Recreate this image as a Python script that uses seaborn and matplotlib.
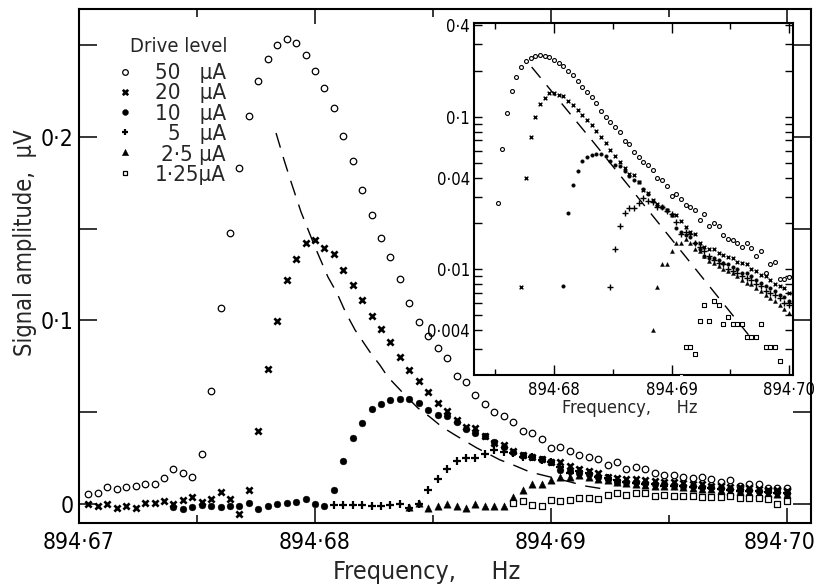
import numpy as np
import pandas as pd
import matplotlib
matplotlib.use("Agg")
import matplotlib.pyplot as plt
from matplotlib.ticker import LogLocator, NullFormatter
from matplotlib.transforms import ScaledTranslation
import seaborn as sns

nan = np.nan

# ── Data ──────────────────────────────────────────────────────────────────────

freq = [894.6704, 894.6708, 894.6712, 894.6716, 894.6720, 894.6724, 894.6728, 894.6732, 894.6736, 894.6740,
        894.6744, 894.6748, 894.6752, 894.6756, 894.6760, 894.6764, 894.6768, 894.6772, 894.6776, 894.6780,
        894.6784, 894.6788, 894.6792, 894.6796, 894.6800, 894.6804, 894.6808, 894.6812, 894.6816, 894.6820,
        894.6824, 894.6828, 894.6832, 894.6836, 894.6840, 894.6844, 894.6848, 894.6852, 894.6856, 894.6860,
        894.6864, 894.6868, 894.6872, 894.6876, 894.6880, 894.6884, 894.6888, 894.6892, 894.6896, 894.6900,
        894.6904, 894.6908, 894.6912, 894.6916, 894.6920, 894.6924, 894.6928, 894.6932, 894.6936, 894.6940,
        894.6944, 894.6948, 894.6952, 894.6956, 894.6960, 894.6964, 894.6968, 894.6972, 894.6976, 894.6980,
        894.6984, 894.6988, 894.6992, 894.6996, 894.7000]

amp_50 = [0.0053, 0.0058, 0.0091, 0.0080, 0.0091, 0.0095, 0.0109, 0.0109, 0.0140, 0.0190,
          0.0168, 0.0149, 0.0272, 0.0617, 0.1066, 0.1479, 0.1829, 0.2116, 0.2308, 0.2426,
          0.2504, 0.2534, 0.2512, 0.2448, 0.2362, 0.2266, 0.2157, 0.2004, 0.1871, 0.1712,
          0.1575, 0.1448, 0.1346, 0.1228, 0.1094, 0.0993, 0.0918, 0.0851, 0.0796, 0.0696,
          0.0665, 0.0592, 0.0545, 0.0503, 0.0481, 0.0446, 0.0395, 0.0386, 0.0354, 0.0304,
          0.0310, 0.0291, 0.0264, 0.0258, 0.0246, 0.0211, 0.0231, 0.0191, 0.0201, 0.0191,
          0.0168, 0.0158, 0.0155, 0.0149, 0.0140, 0.0149, 0.0137, 0.0122, 0.0131, 0.0095,
          0.0108, 0.0111, 0.0086, 0.0086, 0.0089]

amp_20 = [0.0000, -0.0009, 0.0000, -0.0024, -0.0009, -0.0024, 0.0007, 0.0007, 0.0018, 0.0000,
          0.0022, 0.0037, 0.0010, 0.0027, 0.0066, 0.0027, -0.0056, 0.0077, 0.0399, 0.0736,
          0.0996, 0.1219, 0.1333, 0.1425, 0.1439, 0.1397, 0.1361, 0.1273, 0.1193, 0.1111,
          0.1027, 0.0951, 0.0881, 0.0802, 0.0732, 0.0672, 0.0610, 0.0550, 0.0508, 0.0459,
          0.0422, 0.0414, 0.0372, 0.0332, 0.0319, 0.0286, 0.0268, 0.0255, 0.0244, 0.0226,
          0.0226, 0.0208, 0.0190, 0.0177, 0.0171, 0.0149, 0.0140, 0.0135, 0.0135, 0.0128,
          0.0125, 0.0120, 0.0118, 0.0112, 0.0110, 0.0108, 0.0100, 0.0098, 0.0092, 0.0090,
          0.0085, 0.0080, 0.0078, 0.0075, 0.0070]

amp_10 = [nan] * 9 + [
          -0.0015,
          -0.0029, -0.0015, -0.0005, -0.0009, -0.0015, -0.0009, -0.0009, 0.0004, -0.0029, -0.0009,
          0.0000, 0.0004, 0.0013, 0.0027, 0.0000, -0.0009, 0.0078, 0.0233, 0.0357, 0.0442,
          0.0517, 0.0545, 0.0565, 0.0574, 0.0574, 0.0550, 0.0514, 0.0486, 0.0477, 0.0444,
          0.0408, 0.0386, 0.0372, 0.0335, 0.0313, 0.0282, 0.0264, 0.0258, 0.0244, 0.0226,
          0.0186, 0.0177, 0.0168, 0.0162, 0.0149, 0.0135, 0.0122, 0.0119, 0.0118, 0.0115,
          0.0110, 0.0108, 0.0104, 0.0100, 0.0095, 0.0094, 0.0090, 0.0085, 0.0082, 0.0078,
          0.0075, 0.0072, 0.0068, 0.0066, 0.0062]

amp_5 = [nan] * 26 + [
          -0.0005, -0.0005, -0.0005, -0.0005,
          -0.0010, -0.0010, -0.0005, 0.0000, -0.0024, 0.0000, 0.0077, 0.0135, 0.0191, 0.0235,
          0.0253, 0.0253, 0.0273, 0.0295, 0.0281, 0.0277, 0.0258, 0.0258, 0.0240, 0.0231,
          0.0204, 0.0171, 0.0177, 0.0171, 0.0149, 0.0140, 0.0131, 0.0122, 0.0115, 0.0110,
          0.0108, 0.0100, 0.0098, 0.0095, 0.0090, 0.0088, 0.0085, 0.0080, 0.0078, 0.0072,
          0.0070, 0.0068, 0.0065, 0.0060, 0.0058]

amp_2_5 = [nan] * 34 + [
          -0.0015, 0.0007, -0.0024, -0.0009, 0.0000, -0.0009,
          -0.0024, 0.0000, -0.0009, -0.0009, -0.0009, 0.0040, 0.0077, 0.0109, 0.0109, 0.0131,
          0.0149, 0.0149, 0.0158, 0.0149, 0.0135, 0.0131, 0.0122, 0.0113, 0.0110, 0.0105,
          0.0100, 0.0098, 0.0095, 0.0090, 0.0085, 0.0082, 0.0080, 0.0075, 0.0072, 0.0068,
          0.0065, 0.0062, 0.0058, 0.0055, 0.0052]

amp_1_25 = [nan] * 45 + [
          0.0007, 0.0018, -0.0005, -0.0011, 0.0022,
          0.0018, 0.0020, 0.0031, 0.0031, 0.0028, 0.0046, 0.0058, 0.0046, 0.0062, 0.0058,
          0.0044, 0.0049, 0.0044, 0.0044, 0.0044, 0.0036, 0.0036, 0.0036, 0.0044, 0.0031,
          0.0031, 0.0031, 0.0025, -0.0002, 0.0018]

# dashed reference curve, main panel
dash_freq = [894.67835, 894.67869, 894.67903, 894.67941, 894.68000, 894.68055, 894.68093,
             894.68131, 894.68170, 894.68233, 894.68275, 894.68309, 894.68381, 894.68436,
             894.68487, 894.68538, 894.68593, 894.68686, 894.68784, 894.68839, 894.68911,
             894.68996, 894.69081, 894.69144, 894.69250]
dash_amp = [0.2022, 0.1875, 0.1738, 0.1591, 0.1401, 0.1237, 0.1150,
            0.1041, 0.0948, 0.0828, 0.0757, 0.0692, 0.0594, 0.0523,
            0.0474, 0.0420, 0.0376, 0.0305, 0.0240, 0.0213, 0.0174,
            0.0147, 0.0120, 0.0098, 0.0076]

# dashed reference line, log inset
inset_dash_freq = [894.67810, 894.68334, 894.69682]
inset_dash_amp = [0.212, 0.0684, 0.00351]

drive_numbers = ["50", "20", "10", "5", "2·5", "1·25"]
key_lines = ["50   µA", "20   µA", "10   µA", "5   µA", "2·5 µA", "1·25µA"]
inset_first = [12, 17, 26, 36, 45, 51]   # first point of each series shown in the inset

xtick_vals = [894.67, 894.68, 894.69, 894.70]
xtick_labels = ["894·67", "894·68", "894·69", "894·70"]
ytick_vals = [0, 0.1, 0.2]
ytick_labels = ["0", "0·1", "0·2"]
inset_xtick_vals = [894.68, 894.69, 894.70]
inset_xtick_labels = ["894·68", "894·69", "894·70"]
inset_ytick_vals = [0.004, 0.01, 0.04, 0.1, 0.4]
inset_ytick_labels = ["0·004", "0·01", "0·04", "0·1", "0·4"]

df = pd.DataFrame({"freq": freq, "50": amp_50, "20": amp_20, "10": amp_10,
                   "5": amp_5, "2·5": amp_2_5, "1·25": amp_1_25})

# ── Styles ───────────────────────────────────────────────────────────────────

main_style = {
    "50":   dict(marker="o", s=22, facecolor="white", edgecolor="black", linewidth=0.9),
    "20":   dict(marker="x", s=20, color="black", linewidth=1.9),
    "10":   dict(marker="o", s=24, facecolor="black", edgecolor="black", linewidth=0.3),
    "5":    dict(marker="+", s=32, color="black", linewidth=1.6),
    "2·5":  dict(marker="^", s=28, facecolor="black", edgecolor="black", linewidth=0.3),
    "1·25": dict(marker="s", s=16, facecolor="white", edgecolor="black", linewidth=0.9),
}
inset_style = {
    "50":   dict(marker="o", s=8, facecolor="white", edgecolor="black", linewidth=0.8),
    "20":   dict(marker="x", s=7, color="black", linewidth=1.0),
    "10":   dict(marker="o", s=7, facecolor="black", edgecolor="black", linewidth=0.2),
    "5":    dict(marker="+", s=13, color="black", linewidth=1.0),
    "2·5":  dict(marker="^", s=9, facecolor="black", edgecolor="black", linewidth=0.2),
    "1·25": dict(marker="s", s=7, facecolor="white", edgecolor="black", linewidth=0.8),
}

sns.set_theme(style="ticks")
plt.rcParams["font.family"] = ["DejaVu Sans"]
plt.rcParams["font.stretch"] = "condensed"
plt.rcParams["axes.linewidth"] = 1.5

W, H = 817, 584
fig = plt.figure(figsize=(W / 100, H / 100), dpi=100)
fig.patch.set_facecolor("white")

# ── Main panel ───────────────────────────────────────────────────────────────

ax = fig.add_axes([79 / W, 1 - 523 / H, (811 - 79) / W, (523 - 9) / H])
for col in drive_numbers:
    sns.scatterplot(data=df, x="freq", y=col, ax=ax, zorder=3, **main_style[col])
ax.plot(dash_freq, dash_amp, color="black", lw=1.0, linestyle=(0, (11, 7)))

ax.set_xlim(894.67, 894.70102)
ax.set_ylim(-0.0104, 0.2698)
ax.set_xticks(xtick_vals)
ax.set_xticklabels(xtick_labels)
ax.set_xticks([894.675, 894.685, 894.695], minor=True)
ax.set_yticks(ytick_vals)
ax.set_yticklabels(ytick_labels)
ax.set_yticks([0.05, 0.15, 0.25], minor=True)
ax.tick_params(which="both", direction="in", top=True, right=True, width=1.1,
               colors="black", labelsize=16.5)
ax.tick_params(axis="x", which="major", length=10.5, pad=6)
ax.tick_params(axis="x", which="minor", length=5.5)
ax.tick_params(axis="y", which="both", length=13, pad=4)
for sp in ax.spines.values():
    sp.set_color("black")

# last frequency label sits flush with the right edge
last = ax.get_xticklabels()[-1]
last.set_horizontalalignment("right")
last.set_transform(last.get_transform() + ScaledTranslation(0.29, 0, fig.dpi_scale_trans))

ax.set_xlabel("Frequency,     Hz", fontsize=18, va="center")
ax.xaxis.set_label_coords((427 - 79) / 732, (523 - 572) / 514)
ax.set_ylabel("Signal amplitude,  µV", fontsize=17, va="center", ha="center")
ax.yaxis.set_label_coords((25 - 79) / 732, (523 - 243) / 514)

# hand-drawn key in the upper left
fig.text(130 / W, 1 - 46 / H, "Drive level", ha="left", va="center", fontsize=14.5)
key_rows = [72, 92, 112, 132, 152, 173]
for col, y in zip(drive_numbers, key_rows):
    kst = dict(main_style[col])
    kst["s"] = kst["s"] * 0.75
    ax.scatter([125 / W], [1 - y / H], transform=fig.transFigure, clip_on=False,
               zorder=5, **kst)
fig.text(226 / W, 1 - 63 / H, "\n".join(key_lines), ha="right", va="top",
         multialignment="right", fontsize=16, linespacing=1.025)

# ── Inset (log scale) ────────────────────────────────────────────────────────

ins = fig.add_axes([474 / W, 1 - 375 / H, (793 - 474) / W, (375 - 23) / H])
ins.set_facecolor("white")
ins.set_zorder(4)
ins.set_yscale("log")
for col, first in zip(drive_numbers, inset_first):
    sub = df.iloc[first:]
    sub = sub[sub[col] > 0]
    sns.scatterplot(data=sub, x="freq", y=col, ax=ins, zorder=3, **inset_style[col])
ins.plot(inset_dash_freq, inset_dash_amp, color="black", lw=1.0, linestyle=(0, (10, 7)))

ins.set_xlim(894.67319, 894.70034)
ins.set_ylim(0.00203, 0.412)
ins.set_xticks(inset_xtick_vals)
ins.set_xticklabels(inset_xtick_labels)
ins.set_xticks([894.675, 894.685, 894.695], minor=True)
ins.set_yticks(inset_ytick_vals)
ins.set_yticklabels(inset_ytick_labels)
ins.yaxis.set_minor_locator(LogLocator(base=10, subs=np.arange(2, 10)))
ins.yaxis.set_minor_formatter(NullFormatter())
ins.tick_params(which="both", direction="in", top=True, right=True, width=1.0,
                colors="black", labelsize=12)
ins.tick_params(axis="x", which="major", length=7, pad=4)
ins.tick_params(axis="x", which="minor", length=4)
ins.tick_params(axis="y", which="both", length=5.5, pad=3)
for sp in ins.spines.values():
    sp.set_color("black")
ins.set_xlabel("Frequency,     Hz", fontsize=13, va="center")
ins.xaxis.set_label_coords((630 - 474) / 319, (375 - 408) / 352)
ins.set_ylabel("")

fig.savefig("out.png", dpi=100)
